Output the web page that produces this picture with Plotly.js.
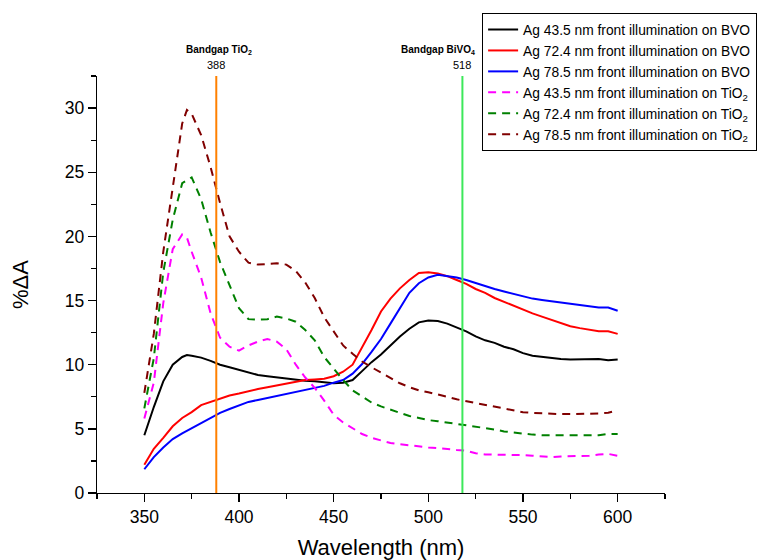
<!DOCTYPE html>
<html>
<head>
<meta charset="utf-8">
<script src="https://cdn.plot.ly/plotly-3.0.1.min.js"></script>
<style>html,body{margin:0;padding:0;background:#fff;}#chart{width:766px;height:560px;}</style>
</head>
<body>
<div id="chart"></div>
<script>
// Wavelength (nm)
const wavelength = [350,355,360,365,370,372.5,375,380,385,390,395,400,405,410,415,420,425,430,435,440,445,450,455,460,465,470,475,480,485,490,495,500,505,510,515,520,525,530,535,540,545,550,555,560,565,570,575,580,585,590,595,600];

// %ΔA series
const ag435_bvo = [4.5,6.7,8.7,10.0,10.6,10.75,10.7,10.55,10.3,10.0,9.8,9.6,9.35,9.2,9.1,9.0,8.9,8.8,8.75,8.7,8.65,8.55,8.6,8.8,9.5,10.2,10.8,11.5,12.2,12.8,13.3,13.45,13.4,13.2,12.9,12.6,12.2,11.9,11.7,11.4,11.2,10.9,10.7,10.6,10.5,10.45,10.4,10.4,10.4,10.45,10.35,10.4];
const ag724_bvo = [2.2,3.45,4.3,5.2,5.85,6.05,6.3,6.85,7.1,7.35,7.6,7.75,7.95,8.1,8.25,8.4,8.55,8.7,8.8,8.85,8.9,9.1,9.45,10.0,11.3,12.7,14.15,15.15,15.95,16.6,17.15,17.2,17.1,16.9,16.6,16.3,15.9,15.6,15.2,14.9,14.55,14.3,14.0,13.75,13.5,13.25,13.0,12.85,12.75,12.6,12.6,12.4];
const ag785_bvo = [1.85,2.8,3.55,4.2,4.65,4.85,5.1,5.45,5.85,6.25,6.55,6.85,7.1,7.25,7.4,7.55,7.7,7.85,8.0,8.15,8.35,8.6,8.8,9.3,10.05,11.0,12.0,13.2,14.4,15.6,16.35,16.8,17.0,16.9,16.8,16.6,16.35,16.1,15.9,15.7,15.5,15.3,15.15,15.05,14.95,14.85,14.75,14.6,14.55,14.45,14.45,14.2];
const ag435_tio2 = [5.8,8.6,14.8,19.0,20.15,19.9,18.8,16.8,14.0,12.1,11.4,11.1,11.5,11.8,12.0,11.8,11.2,10.0,9.0,8.2,7.2,6.1,5.5,5.05,4.6,4.3,4.1,3.9,3.8,3.7,3.6,3.55,3.5,3.4,3.35,3.3,3.1,3.0,3.0,3.0,2.95,2.95,2.9,2.85,2.8,2.85,2.85,2.85,2.9,3.0,3.05,2.9];
const ag724_tio2 = [6.6,10.5,17.2,21.3,24.15,24.4,24.6,22.9,20.3,18.0,16.2,14.4,13.55,13.5,13.55,13.75,13.6,13.35,12.7,11.9,10.6,9.7,8.8,8.0,7.5,7.05,6.75,6.5,6.2,6.0,5.85,5.68,5.6,5.5,5.4,5.3,5.2,5.1,4.95,4.8,4.7,4.6,4.55,4.5,4.5,4.5,4.5,4.45,4.5,4.5,4.6,4.6];
const ag785_tio2 = [7.8,12.4,18.8,23.8,28.8,29.85,29.55,27.9,25.4,22.6,20.0,18.8,17.95,17.8,17.85,17.9,17.8,17.3,16.4,15.2,13.7,12.6,11.5,10.85,10.25,9.8,9.4,9.0,8.55,8.25,8.0,7.85,7.7,7.5,7.3,7.15,7.0,6.85,6.75,6.6,6.45,6.3,6.25,6.2,6.2,6.15,6.15,6.15,6.2,6.2,6.25,6.45];

const seriesNames = [
  "Ag 43.5 nm front illumination on BVO",
  "Ag 72.4 nm front illumination on BVO",
  "Ag 78.5 nm front illumination on BVO",
  "Ag 43.5 nm front illumination on TiO<sub>2</sub>",
  "Ag 72.4 nm front illumination on TiO<sub>2</sub>",
  "Ag 78.5 nm front illumination on TiO<sub>2</sub>"
];
const seriesValues = [ag435_bvo, ag724_bvo, ag785_bvo, ag435_tio2, ag724_tio2, ag785_tio2];
const seriesColors = ["#000000","#FF0000","#0000FF","#FF00FF","#008000","#800000"];
const seriesDash = ["solid","solid","solid","8px,6px","8px,6px","8px,6px"];

// Bandgap markers
const bandgapWavelengths = [388, 518];
const bandgapLabels = ["Bandgap TiO<sub>2</sub>", "Bandgap BiVO<sub>4</sub>"];
const bandgapColors = ["#FF8000", "#3CE85A"];

const FONT = "Liberation Sans, Arial, Helvetica, sans-serif";

const traces = seriesValues.map((vals, i) => ({
  x: wavelength,
  y: vals,
  type: "scatter",
  mode: "lines",
  name: seriesNames[i],
  line: {color: seriesColors[i], width: 2, dash: seriesDash[i]}
}));

const shapes = bandgapWavelengths.map((w, i) => ({
  type: "line", xref: "x", yref: "paper", x0: w, x1: w, y0: 0, y1: 1,
  line: {color: bandgapColors[i], width: 2}
}));

const annotations = [];
bandgapWavelengths.forEach((w, i) => {
  annotations.push({
    x: w, xref: "x", y: 1, yref: "paper", yanchor: "middle",
    xanchor: i === 0 ? "center" : "right",
    xshift: i === 0 ? 3 : 15,
    yshift: 26, showarrow: false,
    text: "<b>" + bandgapLabels[i] + "</b>",
    font: {family: FONT, size: 10, color: "#000"}
  });
  annotations.push({
    x: w, xref: "x", y: 1, yref: "paper", yanchor: "middle", xanchor: "center",
    yshift: 11, showarrow: false, text: String(w),
    font: {family: FONT, size: 11, color: "#000"}
  });
});

const layout = {
  width: 766, height: 560,
  margin: {l: 97, r: 101, t: 76, b: 67, autoexpand: false},
  paper_bgcolor: "#fff", plot_bgcolor: "#fff",
  font: {family: FONT, color: "#000"},
  showlegend: true,
  legend: {
    x: 0.678, y: 1.151, xanchor: "left", yanchor: "top",
    bordercolor: "#000", borderwidth: 1, bgcolor: "#fff",
    font: {family: FONT, size: 13.8, color: "#000"},
    tracegroupgap: 0
  },
  xaxis: {
    range: [325, 625], autorange: false,
    showgrid: false, zeroline: false,
    showline: true, linecolor: "#000", linewidth: 1.3,
    ticks: "outside", ticklen: 8, tickwidth: 1.3, tickcolor: "#000",
    tick0: 350, dtick: 50,
    minor: {ticks: "outside", ticklen: 5, dtick: 25, tickcolor: "#000", tickwidth: 1.3},
    tickfont: {family: FONT, size: 17.5, color: "#000"},
    title: {text: "Wavelength (nm)", font: {family: FONT, size: 22, color: "#000"}, standoff: 16}
  },
  yaxis: {
    range: [0, 32.5], autorange: false,
    showgrid: false, zeroline: false,
    showline: true, linecolor: "#000", linewidth: 1.3,
    ticks: "outside", ticklen: 8, tickwidth: 1.3, tickcolor: "#000",
    tick0: 0, dtick: 5,
    minor: {ticks: "outside", ticklen: 5, dtick: 2.5, tickcolor: "#000", tickwidth: 1.3},
    tickfont: {family: FONT, size: 17.5, color: "#000"},
    title: {text: "%ΔA", font: {family: FONT, size: 22, color: "#000"}, standoff: 30}
  },
  shapes: shapes,
  annotations: annotations
};

Plotly.newPlot("chart", traces, layout, {displayModeBar: false, staticPlot: true});
</script>
</body>
</html>
